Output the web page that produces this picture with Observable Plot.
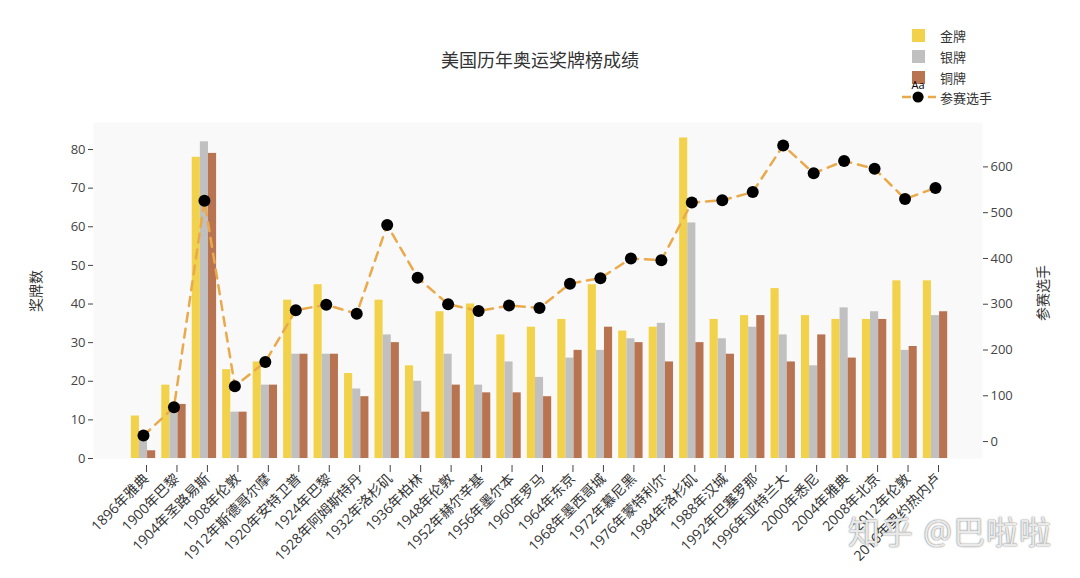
<!DOCTYPE html>
<html>
<head>
<meta charset="utf-8">
<script src="https://cdn.jsdelivr.net/npm/d3@7"></script>
<script src="https://cdn.jsdelivr.net/npm/@observablehq/plot@0.6"></script>
<style>
  html, body { margin: 0; padding: 0; background: #fff; }
  #wrap { position: relative; width: 1080px; height: 578px; overflow: hidden;
          font-family: "Open Sans", "Noto Sans CJK SC", sans-serif; color: #444; }
  #chart { position: absolute; left: 0; top: 0; }
  .abs { position: absolute; white-space: nowrap; }
  #title { left: 0; width: 1080px; top: 46px; text-align: center; font-size: 18px; color: #333; }
  .ytitle { font-size: 14px; color: #333; transform-origin: center center; }
  .sw { position: absolute; width: 13px; height: 13px; }
  .lg { position: absolute; font-size: 13px; color: #333; }
  #wm { left: 848px; top: 507px; font-size: 32px; color: rgba(255,255,255,0.85);
        text-shadow: 0 0 2px rgba(90,90,90,0.6), 0 0 1px rgba(90,90,90,0.7); letter-spacing: 1px; }
</style>
</head>
<body>
<div id="wrap">
  <div id="chart"></div>
  <div id="title" class="abs">美国历年奥运奖牌榜成绩</div>
  <div class="abs ytitle" id="yl" style="left:13px; top:281px; width:44px; text-align:center; transform: rotate(-90deg);">奖牌数</div>
  <div class="abs ytitle" id="yr" style="left:1012px; top:283px; width:60px; text-align:center; transform: rotate(-90deg);">参赛选手</div>
  <div id="legend"></div>
  <div id="wm" class="abs">知乎 @巴啦啦</div>
</div>
<script>
// ---- data ----
const games = ["1896年雅典","1900年巴黎","1904年圣路易斯","1908年伦敦","1912年斯德哥尔摩","1920年安特卫普","1924年巴黎","1928年阿姆斯特丹","1932年洛杉矶","1936年柏林","1948年伦敦","1952年赫尔辛基","1956年墨尔本","1960年罗马","1964年东京","1968年墨西哥城","1972年慕尼黑","1976年蒙特利尔","1984年洛杉矶","1988年汉城","1992年巴塞罗那","1996年亚特兰大","2000年悉尼","2004年雅典","2008年北京","2012年伦敦","2016年里约热内卢"];
const gold   = [11,19,78,23,25,41,45,22,41,24,38,40,32,34,36,45,33,34,83,36,37,44,37,36,36,46,46];
const silver = [7,14,82,12,19,27,27,18,32,20,27,19,25,21,26,28,31,35,61,31,34,32,24,39,38,28,37];
const bronze = [2,14,79,12,19,27,27,16,30,12,19,17,17,16,28,34,30,25,30,27,37,25,32,26,36,29,38];
const athletes = [13,75,526,121,174,287,299,279,473,358,300,285,297,292,345,357,400,396,522,527,545,647,586,613,596,530,554];
const leftTicks = [0,10,20,30,40,50,60,70,80];
const rightTicks = [0,100,200,300,400,500,600];
const seriesNames = ["金牌","银牌","铜牌"];
const seriesColors = ["#f2d24b","#c0c0c0","#b87350"];
const lineName = "参赛选手";

// ---- chart ----
const yMax = 87, rMin = -37, rMax = 697;
const toLeft = a => (a - rMin) * yMax / (rMax - rMin);
const fromLeft = v => Math.round(v * (rMax - rMin) / yMax + rMin);

const data = games.map((g, i) => ({game: g, gold: gold[i], silver: silver[i], bronze: bronze[i], athletes: athletes[i]}));

const x0 = 124.72, x1 = 953.28;
const step = (x1 - x0) / (games.length + 0.2);
const bw = step * 0.8, third = bw / 3;

const chart = Plot.plot({
  width: 1080, height: 578,
  marginTop: 122, marginBottom: 120, marginLeft: 93, marginRight: 98,
  style: {fontFamily: "'Open Sans', 'Noto Sans CJK SC', sans-serif", fontSize: "13px", color: "#444", background: "transparent"},
  x: {domain: games, range: [x0, x1], padding: 0.2, round: false, label: null},
  y: {domain: [0, yMax], label: null},
  marks: [
    Plot.frame({fill: "#f9f9f9", stroke: null}),
    Plot.barY(data, {x: "game", y: "gold", fill: seriesColors[0], insetRight: 2 * third}),
    Plot.barY(data, {x: "game", y: "silver", fill: seriesColors[1], insetLeft: third, insetRight: third}),
    Plot.barY(data, {x: "game", y: "bronze", fill: seriesColors[2], insetLeft: 2 * third}),
    Plot.line(data, {x: "game", y: d => toLeft(d.athletes), stroke: "#eaa94a", strokeWidth: 2.5, strokeDasharray: "9,7"}),
    Plot.dot(data, {x: "game", y: d => toLeft(d.athletes), r: 6, fill: "#000"}),
    Plot.axisY(leftTicks, {anchor: "left", tickSize: 5, tickPadding: 3, label: null}),
    Plot.axisY(rightTicks.map(toLeft), {anchor: "right", tickSize: 5, tickPadding: 3, tickFormat: fromLeft, label: null}),
    Plot.axisX({anchor: "bottom", tickRotate: -45, tickSize: 7, tickPadding: 4, dx: 3, dy: 7, fontSize: 14, fill: "#333", label: null})
  ]
});
document.getElementById("chart").appendChild(chart);

// ---- legend ----
const lg = document.getElementById("legend");
const rowsY = [35, 56, 77];
seriesNames.forEach((n, i) => {
  const s = document.createElement("div");
  s.className = "sw"; s.style.left = "912px"; s.style.top = (rowsY[i] - 6.5) + "px";
  s.style.background = seriesColors[i];
  lg.appendChild(s);
  const t = document.createElement("div");
  t.className = "lg"; t.style.left = "940px"; t.style.top = (rowsY[i] - 9) + "px";
  t.textContent = n;
  lg.appendChild(t);
});
lg.insertAdjacentHTML("beforeend",
  `<svg style="position:absolute;left:900px;top:74px" width="40" height="32">
     <text x="18" y="15" text-anchor="middle" font-size="11" font-family="'Open Sans',sans-serif" fill="#000">Aa</text>
     <line x1="2" y1="23" x2="36" y2="23" stroke="#eaa94a" stroke-width="2.5" stroke-dasharray="9,4"/>
     <circle cx="18" cy="23" r="5.5" fill="#000"/>
   </svg>
   <div class="lg" style="left:940px;top:88px">${lineName}</div>`);
</script>
</body>
</html>
